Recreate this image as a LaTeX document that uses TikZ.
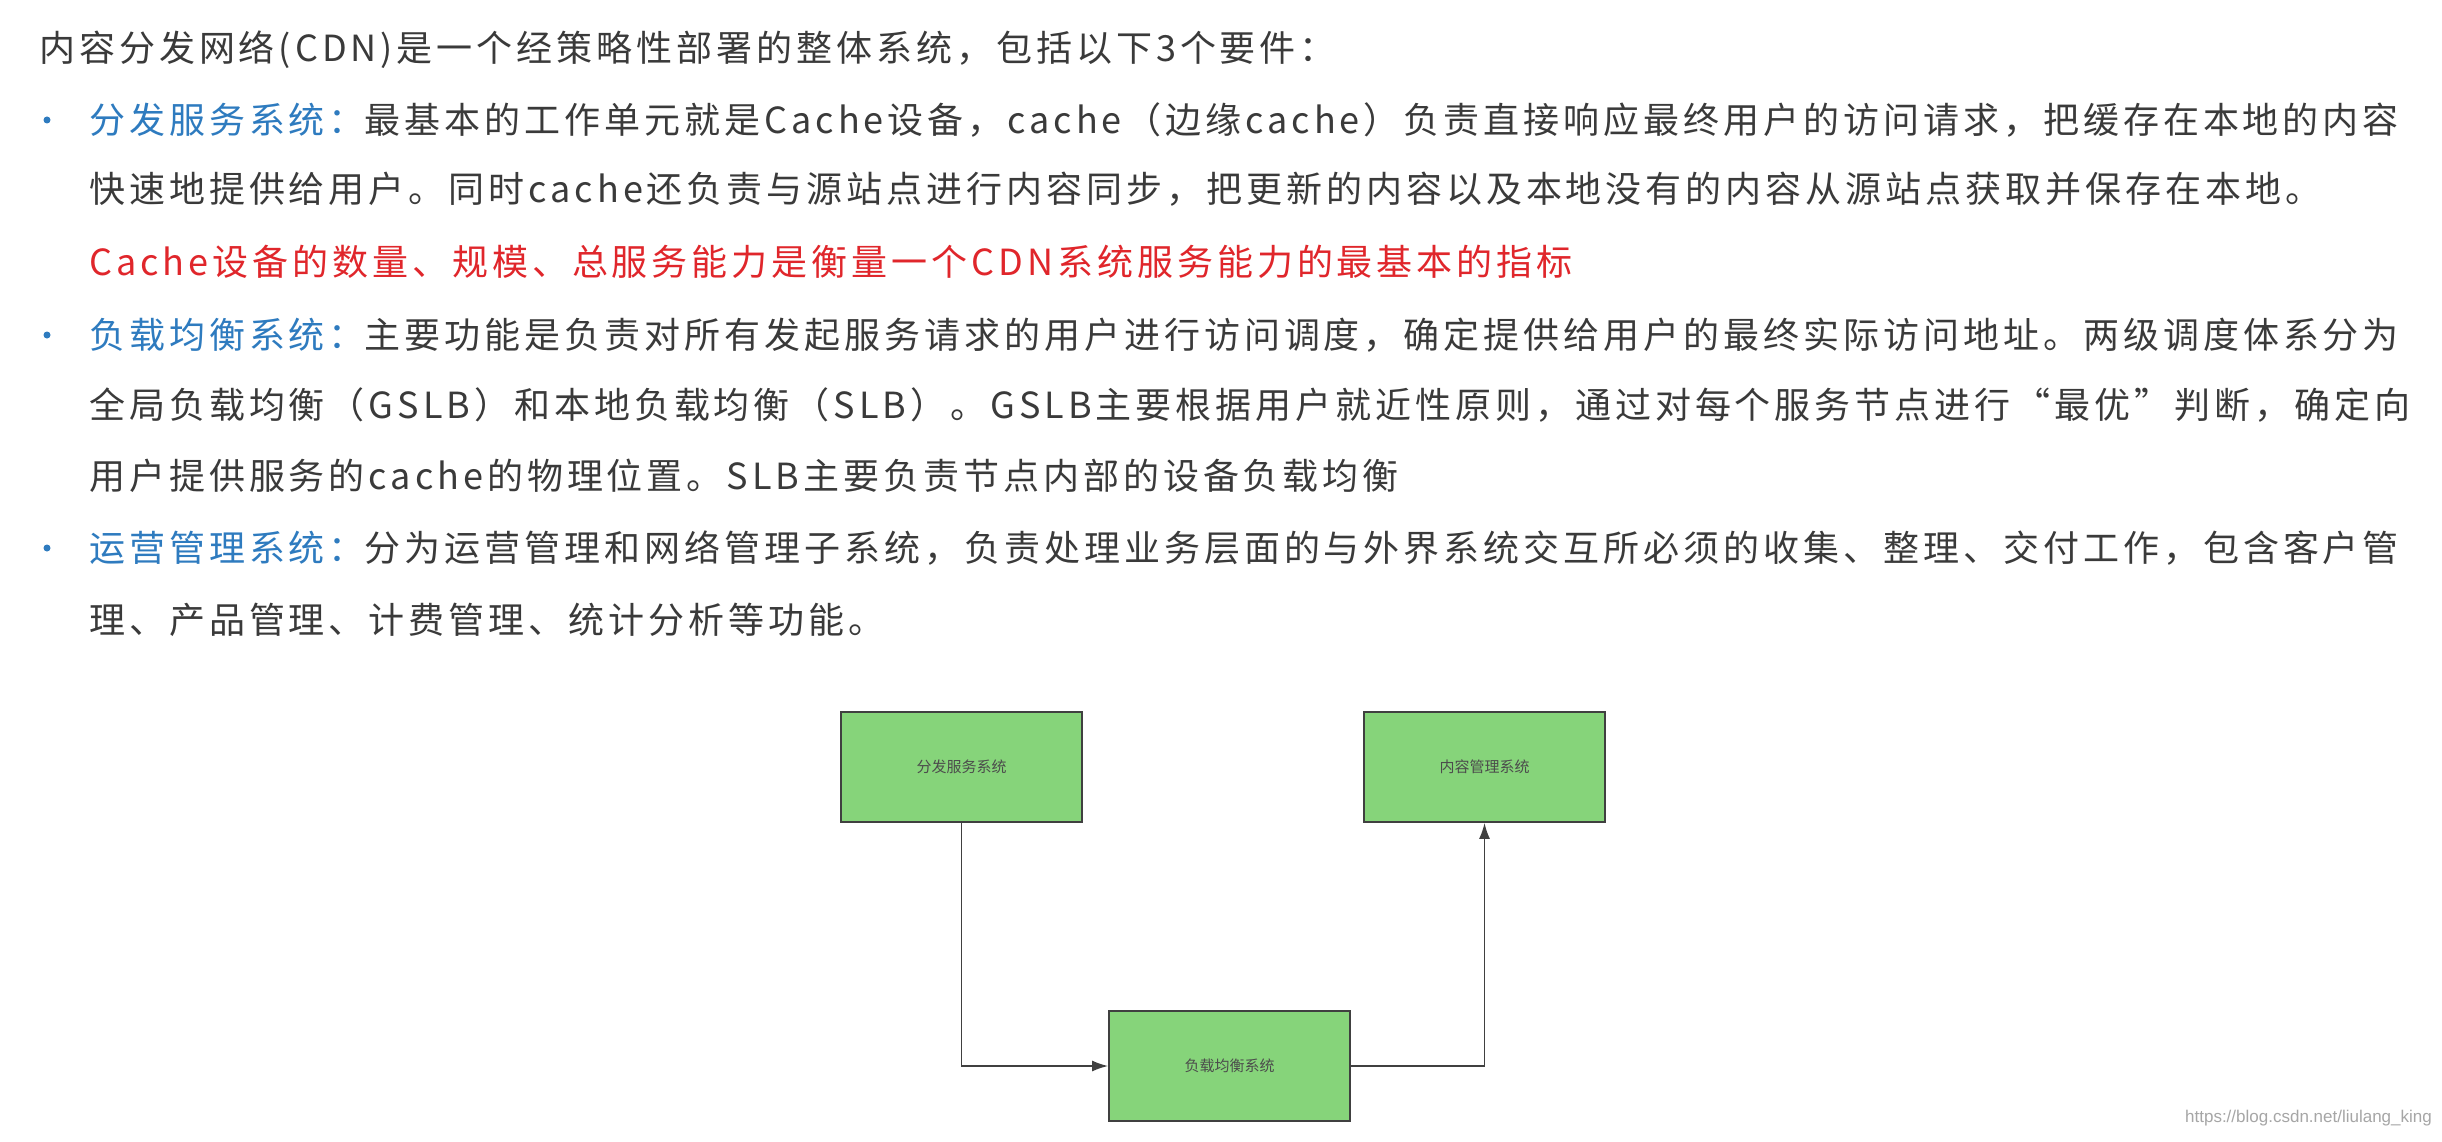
\documentclass[tikz,border=0pt]{standalone}
\usepackage{fontspec}
\usetikzlibrary{arrows.meta}
\setmainfont{Noto Sans CJK SC}
\newfontfamily\bodyfont[LetterSpace=11]{Noto Sans CJK SC}
\newfontfamily\wmfont{Liberation Sans}
\definecolor{txt}{HTML}{3A3A3A}
\definecolor{hblue}{HTML}{2E7BBF}
\definecolor{hred}{HTML}{E0262B}
\definecolor{boxg}{HTML}{86D47A}
\begin{document}
\begin{tikzpicture}[x=1pt,y=-1pt,
  ln/.style={anchor=west,inner sep=0pt,font=\bodyfont\fontsize{36}{36}\selectfont,text=txt},
  bul/.style={circle,fill=hblue,inner sep=0pt,minimum size=7pt},
  sysbox/.style={draw=black!75,line width=1.8pt,fill=boxg,minimum width=241pt,minimum height=110pt,inner sep=0pt,font=\fontsize{15}{15}\selectfont,text=black!70},
  conn/.style={draw=black!75,line width=1.6pt,-{Latex[length=16pt,width=11pt]}}]
\useasboundingbox[fill=white] (0,0) rectangle (2442,1142);
\node[ln] (t0) at (39,50) {内容分发网络(CDN)是一个经策略性部署的整体系统，包括以下3个要件：};
\node[bul] (b1) at (47,120) {};
\node[ln] (l1) at (89,120) {\textcolor{hblue}{分发服务系统：}最基本的工作单元就是Cache设备，cache（边缘cache）负责直接响应最终用户的访问请求，把缓存在本地的内容};
\node[ln] (l2) at (89,189) {快速地提供给用户。同时cache还负责与源站点进行内容同步，把更新的内容以及本地没有的内容从源站点获取并保存在本地。};
\node[ln,text=hred] (l3) at (89,262) {Cache设备的数量、规模、总服务能力是衡量一个CDN系统服务能力的最基本的指标};
\node[bul] (b2) at (47,335) {};
\node[ln] (l4) at (89,335) {\textcolor{hblue}{负载均衡系统：}主要功能是负责对所有发起服务请求的用户进行访问调度，确定提供给用户的最终实际访问地址。两级调度体系分为};
\node[ln] (l5) at (89,405) {全局负载均衡（GSLB）和本地负载均衡（SLB）。GSLB主要根据用户就近性原则，通过对每个服务节点进行“最优”判断，确定向};
\node[ln] (l6) at (89,476) {用户提供服务的cache的物理位置。SLB主要负责节点内部的设备负载均衡};
\node[bul] (b3) at (47,548) {};
\node[ln] (l7) at (89,548) {\textcolor{hblue}{运营管理系统：}分为运营管理和网络管理子系统，负责处理业务层面的与外界系统交互所必须的收集、整理、交付工作，包含客户管};
\node[ln] (l8) at (89,620) {理、产品管理、计费管理、统计分析等功能。};
\node[sysbox] (fa) at (961.5,767) {分发服务系统};
\node[sysbox] (nr) at (1484.5,767) {内容管理系统};
\node[sysbox] (fz) at (1229.5,1066) {负载均衡系统};
\draw[conn] (fa.south) |- (fz.west);
\draw[conn] (fz.east) -| (nr.south);
\node[anchor=east,inner sep=0pt,font=\wmfont\fontsize{17}{17}\selectfont,text=black!35] (wm) at (2432,1118) {https://blog.csdn.net/liulang\_king};
\end{tikzpicture}
\end{document}
